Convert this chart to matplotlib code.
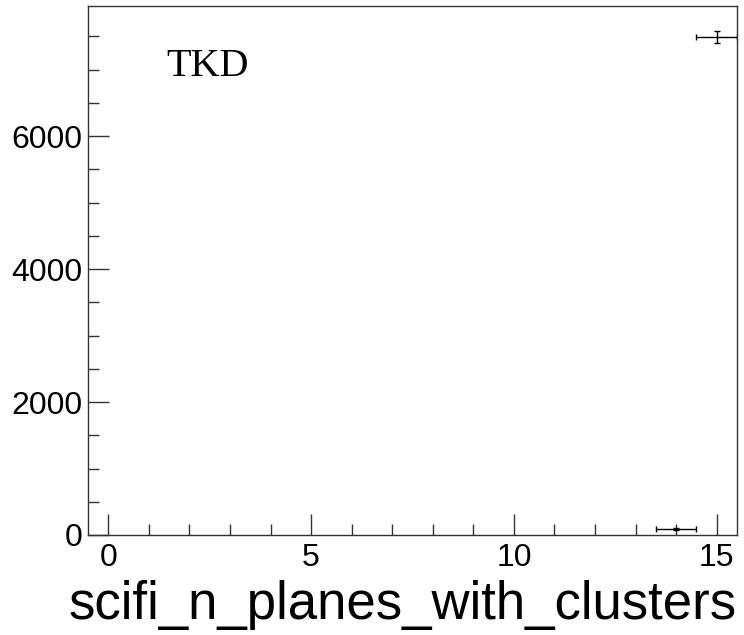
import numpy as np
import matplotlib.pyplot as plt
from matplotlib.ticker import MultipleLocator

# histogram contents (bin centres, counts)
bins = [14, 15]
counts = [90, 7490]
bin_halfwidth = [0.5, 0.5]
errors = np.sqrt(counts)

fig = plt.figure(figsize=(7.44, 6.35), dpi=100)
ax = fig.add_axes([88 / 744, 100 / 635, 649 / 744, 529 / 635])

ax.errorbar(bins, counts, xerr=bin_halfwidth, yerr=errors, fmt='none',
            ecolor='black', elinewidth=1, capsize=2.5, capthick=1)

ax.set_xlim(-0.5, 15.5)
ax.set_ylim(0, 7955)

ax.xaxis.set_major_locator(MultipleLocator(5))
ax.xaxis.set_minor_locator(MultipleLocator(1))
ax.yaxis.set_major_locator(MultipleLocator(2000))
ax.yaxis.set_minor_locator(MultipleLocator(500))

ax.tick_params(which='both', direction='in', top=False, right=False,
               labelsize=23, colors='#333333', labelcolor='black')
ax.tick_params(which='major', length=15, width=1)
ax.tick_params(which='minor', length=8, width=1)
ax.tick_params(axis='x', pad=6)
ax.tick_params(axis='y', pad=4)

for side in ax.spines.values():
    side.set_color('#333333')
    side.set_linewidth(1)

for lbl in ax.get_xticklabels() + ax.get_yticklabels():
    lbl.set_family('Liberation Sans')

ax.set_xlabel('scifi_n_planes_with_clusters', fontsize=38, family='Liberation Sans',
              loc='right', labelpad=5)

ax.text(0.12, 0.885, 'TKD', transform=ax.transAxes, fontsize=29,
        family='Liberation Serif', ha='left', va='center')

fig.savefig('out.png', dpi=100)
